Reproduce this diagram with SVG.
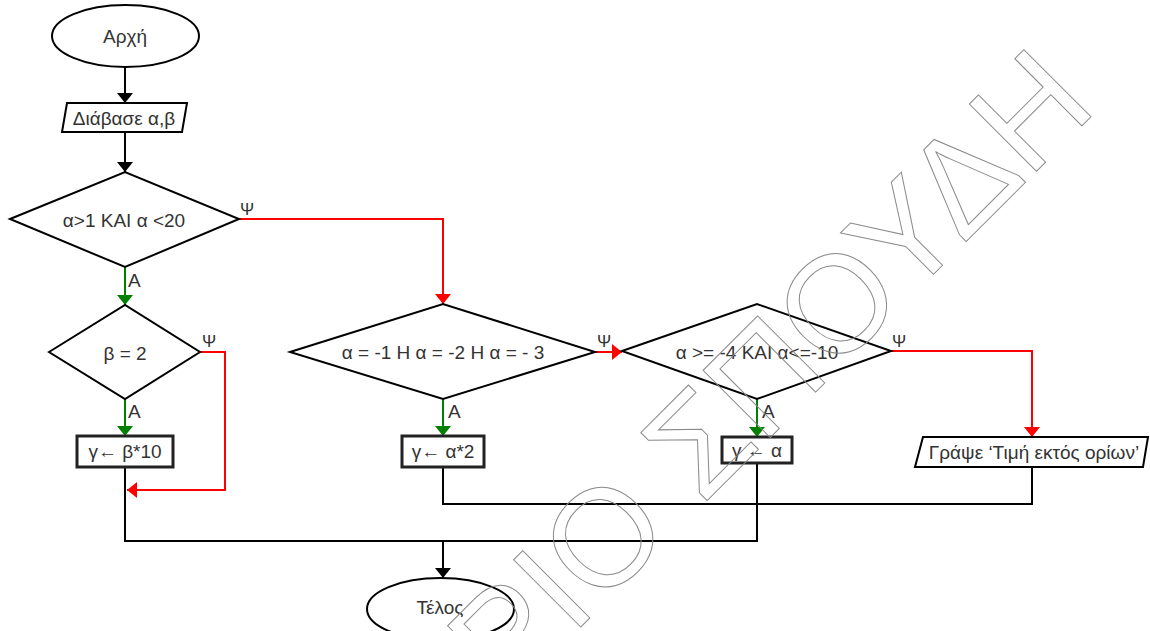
<svg xmlns="http://www.w3.org/2000/svg" width="1150" height="631" viewBox="0 0 1150 631">
<defs>
<style>
.shape{fill:#fff;stroke:#000;stroke-width:2}
.box{fill:#fff;stroke:#222;stroke-width:3}
.t{font-family:"Liberation Sans",Arial,sans-serif;font-size:19px;fill:#333;text-anchor:middle}
.lbl{font-family:"Liberation Sans",Arial,sans-serif;font-size:17px;fill:#333}
.k{fill:none;stroke:#000;stroke-width:2}
.r{fill:none;stroke:#f00;stroke-width:2}
.g{fill:none;stroke:#008000;stroke-width:2}
.wm{font-family:"Liberation Sans",Arial,sans-serif;font-size:138px;fill:none;stroke:#8a8a8a;stroke-width:1}
</style>
<marker id="ak" viewBox="0 0 10 16" refX="10" refY="8" markerWidth="10" markerHeight="16" orient="auto" markerUnits="userSpaceOnUse"><path d="M0,0 L10,8 L0,16 z" fill="#000"/></marker>
<marker id="ar" viewBox="0 0 10 16" refX="10" refY="8" markerWidth="10" markerHeight="16" orient="auto" markerUnits="userSpaceOnUse"><path d="M0,0 L10,8 L0,16 z" fill="#f00"/></marker>
<marker id="ag" viewBox="0 0 10 16" refX="10" refY="8" markerWidth="10" markerHeight="16" orient="auto" markerUnits="userSpaceOnUse"><path d="M0,0 L10,8 L0,16 z" fill="#008000"/></marker>
</defs>
<rect width="1150" height="631" fill="#fff"/>
<g id="connectors">
<path class="k" d="M125,67 V103" marker-end="url(#ak)"/>
<path class="k" d="M125,132 V172" marker-end="url(#ak)"/>
<path class="r" d="M239,219 H443 V304" marker-end="url(#ar)"/>
<path class="g" d="M125,267 V305" marker-end="url(#ag)"/>
<path class="g" d="M125,399 V436" marker-end="url(#ag)"/>
<path class="r" d="M200,352 H225 V490 H127" marker-end="url(#ar)"/>
<path class="g" d="M443,399 V436" marker-end="url(#ag)"/>
<path class="r" d="M595,352 H622" marker-end="url(#ar)"/>
<path class="g" d="M757,399 V437" marker-end="url(#ag)"/>
<path class="r" d="M891,351 H1032 V437" marker-end="url(#ar)"/>
<path class="k" d="M125,467 V541 H757 V463"/>
<path class="k" d="M443,467 V504 H1032 V467"/>
<path class="k" d="M443,541 V578" marker-end="url(#ak)"/>
<text class="lbl" x="240" y="215">Ψ</text>
<text class="lbl" x="128" y="287" style="font-size:19px">Α</text>
<text class="lbl" x="202" y="347">Ψ</text>
<text class="lbl" x="128" y="418" style="font-size:19px">Α</text>
<text class="lbl" x="597" y="347">Ψ</text>
<text class="lbl" x="448" y="418" style="font-size:19px">Α</text>
<text class="lbl" x="892" y="347">Ψ</text>
<text class="lbl" x="762" y="418" style="font-size:19px">Α</text>
</g>
<g id="start">
<ellipse class="shape" cx="125.5" cy="36" rx="73.5" ry="31"/>
<text class="t" x="125" y="43">Αρχή</text>
</g>
<g id="read">
<polygon class="shape" points="67,103 187,103 182,132 62,132"/>
<text class="t" x="124" y="125">Διάβασε α,β</text>
</g>
<g id="cond1">
<polygon class="shape" points="10,219 125,172 239,219 125,267"/>
<text class="t" x="124" y="227">α&gt;1 ΚΑΙ α &lt;20</text>
</g>
<g id="cond2">
<polygon class="shape" points="49,352 125,305 200,352 125,399"/>
<text class="t" x="125" y="360">β = 2</text>
</g>
<g id="assign1">
<rect class="box" x="77" y="436" width="96" height="31"/>
<text class="t" x="125" y="458">γ← β*10</text>
</g>
<g id="cond3">
<polygon class="shape" points="290,352 443,304 595,352 443,399"/>
<text class="t" x="443" y="359">α = -1 Η α = -2 Η α = - 3</text>
</g>
<g id="assign2">
<rect class="box" x="402" y="436" width="82" height="31"/>
<text class="t" x="443" y="458">γ← α*2</text>
</g>
<g id="cond4">
<polygon class="shape" points="622,351 757,304 891,351 757,399"/>
<text class="t" x="757" y="359">α &gt;= -4 ΚΑΙ α&lt;=-10</text>
</g>
<g id="assign3">
<rect class="box" x="722" y="437" width="70" height="26"/>
<text class="t" x="757" y="457">γ ← α</text>
</g>
<g id="write">
<polygon class="shape" points="923,437 1148,437 1143,467 915,467"/>
<text class="t" x="1034" y="459">Γράψε ‘Τιμή εκτός ορίων’</text>
</g>
<g id="end">
<ellipse class="shape" cx="440.5" cy="609" rx="73.5" ry="31"/>
<text class="t" x="440" y="614">Τέλος</text>
</g>
<g id="watermark">
<text class="wm" transform="translate(506.7,701) rotate(-45)">ΡΙΟ ΣΠΟΥΔΗ</text>
</g>
</svg>
